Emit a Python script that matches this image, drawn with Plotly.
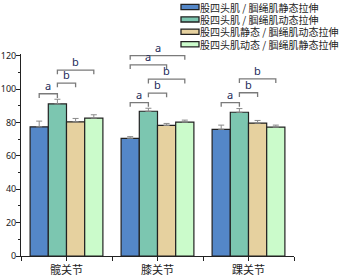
import plotly.graph_objects as go

categories = ["髋关节", "膝关节", "踝关节"]
series_names = ["股四头肌 / 腘绳肌静态拉伸", "股四头肌 / 腘绳肌动态拉伸",
                "股四头肌静态 / 腘绳肌动态拉伸", "股四头肌动态 / 腘绳肌静态拉伸"]
values = [
    [77.4, 70.5, 75.9],
    [91.1, 86.7, 86.1],
    [80.4, 78.2, 79.6],
    [82.6, 80.2, 77.2],
]
errors = [
    [3.4, 1.0, 2.5],
    [2.8, 1.8, 2.2],
    [2.0, 1.2, 1.6],
    [2.0, 1.2, 1.2],
]
colors = ["#5487C8", "#7CC6B0", "#E6D19F", "#CBFBCB"]

# significance brackets: (category index, bar i, bar j, level, label)
brackets = [
    (0, 0, 1, 97.2, "a"), (0, 1, 2, 103.6, "b"), (0, 1, 3, 111.3, "b"),
    (1, 0, 1, 91.9, "a"), (1, 1, 2, 97.6, "b"), (1, 1, 3, 105.9, "b"),
    (1, 0, 2, 114.5, "a"), (1, 0, 3, 120.0, "a"),
    (2, 0, 1, 91.9, "a"), (2, 1, 2, 97.8, "b"), (2, 1, 3, 106.1, "b"),
]

W, H = 346, 278
ML, MR, MT, MB = 21, 52, 54, 22
PW, PH = W - ML - MR, H - MT - MB

xs = list(range(len(categories)))
bargap = 0.2
n = len(series_names)
bw = (1 - bargap) / n

def bar_center(c, i):
    return c - (1 - bargap) / 2 + bw * (i + 0.5)

def px_x(p):
    return (p - ML) / PW

def px_y(p):
    return (H - MB - p) / PH

fig = go.Figure()
for k in range(n):
    fig.add_trace(go.Bar(
        x=xs, y=values[k], name=series_names[k], showlegend=False,
        marker=dict(color=colors[k], line=dict(color="#222222", width=1.2)),
        error_y=dict(type="data", array=errors[k], arrayminus=[0] * len(xs),
                     symmetric=False, color="#8a8a8a", thickness=1, width=3),
    ))

leg = 2.5
for c, i, j, lvl, lab in brackets:
    x0, x1 = bar_center(c, i), bar_center(c, j)
    fig.add_shape(type="path",
                  path=f"M {x0},{lvl - leg} L {x0},{lvl} L {x1},{lvl} L {x1},{lvl - leg}",
                  line=dict(color="#7a7a7a", width=1.3), xref="x", yref="y")
    fig.add_annotation(x=(x0 + x1) / 2, y=lvl, text=lab, showarrow=False,
                       yanchor="bottom", yshift=-1,
                       font=dict(size=11, color="#1c2a5a", family="Noto Sans"))

# legend drawn manually (compact row spacing as in the reference)
row0, rowstep = 7.0, 12.4
for k in range(n):
    yc = row0 + rowstep * k
    fig.add_shape(type="rect", xref="paper", yref="paper",
                  x0=px_x(181), x1=px_x(199), y0=px_y(yc + 2.6), y1=px_y(yc - 2.6),
                  fillcolor=colors[k], line=dict(color="#222222", width=1.3))
    fig.add_annotation(xref="paper", yref="paper", x=px_x(199), y=px_y(yc),
                       text=series_names[k], showarrow=False, xanchor="left",
                       yanchor="middle", borderpad=0,
                       font=dict(size=10, family="Noto Sans CJK SC", color="#222222"))

fig.update_layout(
    width=W, height=H,
    margin=dict(l=ML, r=MR, t=MT, b=MB, autoexpand=False),
    paper_bgcolor="white", plot_bgcolor="white",
    barmode="group", bargap=bargap, bargroupgap=0,
    font=dict(family="Noto Sans CJK SC", size=11, color="#222222"),
    showlegend=False,
)
fig.update_xaxes(
    tickvals=xs, ticktext=categories, range=[-0.5, 2.5],
    showgrid=False, zeroline=False, showline=True, linecolor="#222222", linewidth=1,
    ticks="outside", ticklen=4, tickcolor="#222222", tickangle=0,
    minor=dict(tick0=0.5, dtick=1, ticks="outside", ticklen=4, tickcolor="#222222"),
    tickfont=dict(size=11, family="Noto Sans CJK SC"),
)
fig.update_yaxes(
    range=[0, 121], tickvals=[0, 20, 40, 60, 80, 100, 120],
    showgrid=False, zeroline=False, showline=True, linecolor="#222222", linewidth=1,
    ticks="outside", ticklen=4, tickcolor="#222222", ticklabelstandoff=-2,
    minor=dict(dtick=10, ticks="outside", ticklen=2, tickcolor="#222222"),
    tickfont=dict(size=9, family="Noto Sans"),
)

fig.write_html("out.html", config={"displayModeBar": False},
               post_script="document.body.style.margin='0';")
